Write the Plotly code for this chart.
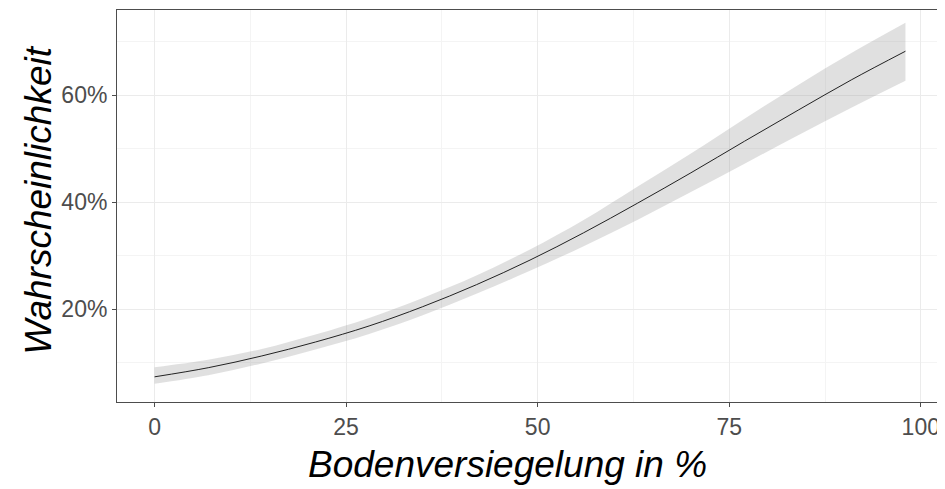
import plotly.graph_objects as go

# Data (x in %, probability in %)
versiegelung = [0, 7, 14, 21, 28, 35, 42, 49, 56, 63, 70, 77, 84, 91, 98]
prob_fit = [7.4, 9.1, 11.3, 13.9, 16.9, 20.5, 24.6, 29.2, 34.3, 39.8, 45.5, 51.4, 57.2, 62.9, 68.2]
prob_upper = [9.2, 10.6, 12.6, 15.3, 18.4, 22.1, 26.3, 31.2, 36.7, 42.9, 49.1, 55.6, 61.9, 67.9, 73.5]
prob_lower = [6.1, 7.7, 9.9, 12.5, 15.4, 18.9, 22.9, 27.2, 31.8, 36.7, 41.9, 47.2, 52.5, 57.7, 62.7]

x_ticks = [0, 25, 50, 75, 100]
y_ticks = [20, 40, 60]
y_tick_labels = ["20%", "40%", "60%"]
x_title = "Bodenversiegelung in %"
y_title = "Wahrscheinlichkeit"

FONT = "Liberation Sans, Arial, sans-serif"

fig = go.Figure()
fig.add_trace(go.Scatter(
    x=versiegelung, y=prob_lower, mode="lines",
    line=dict(width=0, shape="spline"), hoverinfo="skip", showlegend=False))
fig.add_trace(go.Scatter(
    x=versiegelung, y=prob_upper, mode="lines", fill="tonexty",
    fillcolor="rgba(153,153,153,0.3)",
    line=dict(width=0, shape="spline"), hoverinfo="skip", showlegend=False))
fig.add_trace(go.Scatter(
    x=versiegelung, y=prob_fit, mode="lines",
    line=dict(color="#222222", width=1, shape="spline"),
    showlegend=False))

axis_common = dict(
    showline=True, linecolor="#4d4d4d", linewidth=1, mirror=True,
    ticks="outside", ticklen=4, tickcolor="#4d4d4d", tickwidth=1,
    showgrid=True, gridcolor="#ebebeb", gridwidth=1,
    zeroline=False, automargin=False,
    tickfont=dict(family=FONT, size=23, color="#4d4d4d"),
)

fig.update_xaxes(
    **axis_common,
    range=[-4.9, 102.9], tickvals=x_ticks,
    minor=dict(showgrid=True, gridcolor="#f4f4f4", gridwidth=1, tick0=0, dtick=12.5, ticks=""),
)
fig.update_yaxes(
    **axis_common,
    range=[2.7, 75.9], tickvals=y_ticks, ticktext=y_tick_labels,
    minor=dict(showgrid=True, gridcolor="#f4f4f4", gridwidth=1, tick0=0, dtick=10, ticks=""),
)

fig.add_annotation(
    text="<i>" + x_title + "</i>", xref="paper", yref="paper",
    x=0.473, y=-0.16, xanchor="center", yanchor="middle", showarrow=False,
    font=dict(family=FONT, size=37, color="#000000"))
fig.add_annotation(
    text="<i>" + y_title + "</i>", xref="paper", yref="paper",
    x=-0.096, y=0.515, xanchor="center", yanchor="middle", showarrow=False,
    textangle=-90, font=dict(family=FONT, size=37, color="#000000"))

fig.update_layout(
    width=937, height=481,
    margin=dict(l=109, r=2, t=2, b=87),
    paper_bgcolor="white", plot_bgcolor="white",
)

fig.write_html("out.html")
